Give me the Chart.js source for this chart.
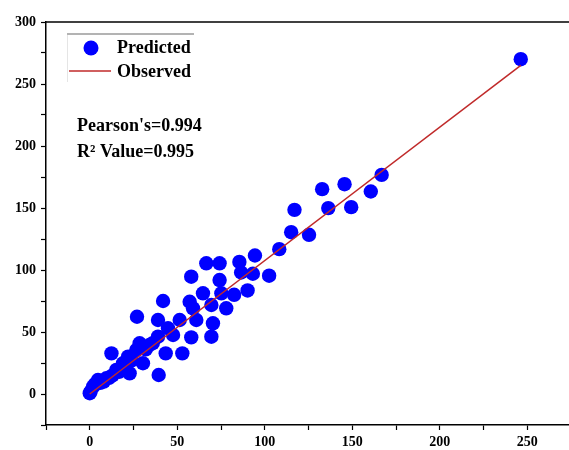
<!DOCTYPE html>
<html>
<head>
<meta charset="utf-8">
<script src="https://cdn.jsdelivr.net/npm/chart.js@4/dist/chart.umd.min.js"></script>
<style>
html,body{margin:0;padding:0;background:#fff;overflow:hidden;}
#wrap{width:569px;height:450px;position:absolute;left:0;top:0;overflow:hidden;}
#c{display:block;width:580px;height:450px;}
</style>
</head>
<body>
<div id="wrap"><canvas id="c" width="580" height="450"></canvas></div>
<script>
// Predicted vs observed scatter points
const predX = [0, 0.5, 1.9, 3, 4.7, 6, 8, 9.5, 11, 12.4, 13, 15.2, 17, 19, 20, 21.9, 22.8, 24, 26.6, 27, 28.5, 30.4, 32, 34.2, 36, 39, 39, 39.4, 41.9, 43.4, 44.7, 47.6, 51.4, 52.9, 57.1, 58, 58, 59, 60.9, 64.7, 66.6, 69.5, 70.4, 69.5, 74.2, 74.2, 75.2, 78, 82.5, 85.5, 86.5, 90.2, 93.2, 94.4, 102.5, 108.3, 115.1, 117, 125.3, 132.8, 136.3, 145.6, 149.4, 160.6, 166.8, 246.3];
const predY = [0.6, 2, 5.9, 8, 11.3, 9, 10, 12.7, 13, 32.8, 15, 19.4, 18, 24.8, 22, 30.1, 16.7, 27, 35.5, 62.3, 40.9, 24.8, 36, 39.5, 41, 46.2, 59.7, 15.3, 75, 32.8, 53, 47.6, 59.7, 32.8, 74.4, 94.6, 45.7, 69.1, 59.7, 81.2, 105.4, 71.8, 57, 46.2, 105.4, 91.9, 81.2, 69.1, 80, 106.5, 98, 83.5, 97, 111.7, 95.4, 116.8, 130.5, 148.5, 128.4, 165.2, 149.9, 169.2, 150.7, 163.3, 176.7, 270];
// Observed (fit) line end points
const obsX = [0, 246.3];
const obsY = [0, 265];
// Axis tick labels
const xTickLabels = [0, 50, 100, 150, 200, 250];
const yTickLabels = [0, 50, 100, 150, 200, 250, 300];
const statLines = ["Pearson's=0.994", "R\u00B2 Value=0.995"];

const FONT = "'Liberation Serif','Times New Roman',serif";

const overlay = {
  id: 'overlay',
  afterDraw(chart) {
    const ctx = chart.ctx;
    const ds = chart.data.datasets;
    ctx.save();
    const ca = chart.chartArea;
    ctx.strokeStyle = '#000';
    ctx.lineWidth = 1.5;
    ctx.beginPath();
    ctx.moveTo(ca.left, ca.top);
    ctx.lineTo(ca.right, ca.top);
    ctx.stroke();
    // legend box top edge
    ctx.strokeStyle = '#9a9a9a';
    ctx.lineWidth = 1.5;
    ctx.beginPath();
    ctx.moveTo(67, 34);
    ctx.lineTo(194, 34);
    ctx.stroke();
    ctx.strokeStyle = 'rgba(180,180,180,0.35)';
    ctx.lineWidth = 1;
    ctx.beginPath();
    ctx.moveTo(67.5, 34);
    ctx.lineTo(67.5, 82);
    ctx.stroke();
    // legend items
    const scatterDs = ds.find(d => d.type === 'scatter');
    const lineDs = ds.find(d => d.type === 'line');
    ctx.fillStyle = scatterDs.backgroundColor;
    ctx.beginPath();
    ctx.arc(91, 48, 7.5, 0, Math.PI * 2);
    ctx.fill();
    ctx.strokeStyle = lineDs.borderColor;
    ctx.lineWidth = 1.5;
    ctx.beginPath();
    ctx.moveTo(69, 71);
    ctx.lineTo(111, 71);
    ctx.stroke();
    ctx.fillStyle = '#000';
    ctx.font = 'bold 18px ' + FONT;
    ctx.textBaseline = 'middle';
    ctx.textAlign = 'left';
    ctx.fillText(scatterDs.label, 117, 48);
    ctx.fillText(lineDs.label, 117, 72);
    // stats
    ctx.font = 'bold 18px ' + FONT;
    ctx.fillText(statLines[0], 77, 126);
    ctx.fillText(statLines[1], 77, 152);
    ctx.restore();
  }
};

new Chart(document.getElementById('c'), {
  data: {
    datasets: [
      {
        type: 'line',
        label: 'Observed',
        data: obsX.map((x, i) => ({x: x, y: obsY[i]})),
        borderColor: '#c02a2a',
        borderWidth: 1.5,
        pointRadius: 0,
        fill: false,
        order: 0
      },
      {
        type: 'scatter',
        label: 'Predicted',
        data: predX.map((x, i) => ({x: x, y: predY[i]})),
        backgroundColor: '#0000ff',
        borderWidth: 0,
        pointRadius: 7.2,
        order: 1
      }
    ]
  },
  options: {
    responsive: false,
    animation: false,
    devicePixelRatio: 1,
    layout: {padding: {top: 22, right: 9, left: 0, bottom: 0}},
    plugins: {legend: {display: false}, tooltip: {enabled: false}},
    scales: {
      x: {
        type: 'linear',
        position: 'bottom',
        min: -25, max: 275,
        afterFit(s) { s.height = 25; s.paddingRight = 0; s.paddingLeft = 0; },
        grid: {display: true, drawOnChartArea: false, drawTicks: true, tickLength: 5, tickColor: '#000', tickWidth: 1.2},
        border: {display: true, color: '#000', width: 1.5},
        ticks: {
          stepSize: 25, autoSkip: false, maxRotation: 0, padding: 4,
          color: '#000',
          font: {family: FONT, size: 14, weight: 'bold'},
          callback: v => xTickLabels.includes(v) ? String(v) : ''
        }
      },
      y: {
        type: 'linear',
        position: 'left',
        min: -25, max: 300,
        afterFit(s) { s.width = 46; s.paddingTop = 0; s.paddingBottom = 0; },
        grid: {display: true, drawOnChartArea: false, drawTicks: true, tickLength: 5, tickColor: '#000', tickWidth: 1.2},
        border: {display: true, color: '#000', width: 1.5},
        ticks: {
          stepSize: 25, autoSkip: false, padding: 5,
          color: '#000',
          font: {family: FONT, size: 14, weight: 'bold'},
          callback: v => yTickLabels.includes(v) ? String(v) : ''
        }
      }
    }
  },
  plugins: [overlay]
});
</script>
</body>
</html>
